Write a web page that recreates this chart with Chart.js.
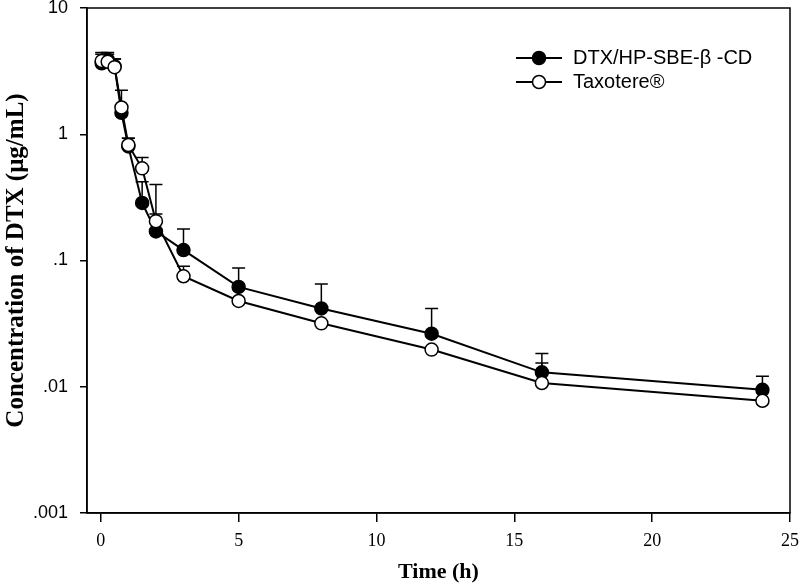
<!DOCTYPE html>
<html>
<head>
<meta charset="utf-8">
<script src="https://cdn.jsdelivr.net/npm/chart.js@4.4.1/dist/chart.umd.min.js"></script>
<style>
  html, body { margin: 0; padding: 0; background: #fff; }
  #wrap { width: 799px; height: 588px; }
</style>
</head>
<body>
<div id="wrap"><canvas id="c" width="799" height="588"></canvas></div>
<script>
// ---- data ----
const times = [0.033, 0.25, 0.5, 0.75, 1, 1.5, 2, 3, 5, 8, 12, 16, 24];
const dtxMean  = [3.65, 3.9, 3.45, 1.48, 0.80, 0.286, 0.170, 0.121, 0.0618, 0.0417, 0.0263, 0.0130, 0.00946];
const dtxUpper = [4.45, 4.45, 3.94, 2.23, 0.93, 0.42, 0.234, 0.178, 0.0873, 0.065, 0.0416, 0.0183, 0.0121];
const taxMean  = [3.8, 3.75, 3.4, 1.63, 0.822, 0.537, 0.205, 0.075, 0.0478, 0.0318, 0.0197, 0.0107, 0.00774];
const taxUpper = [4.3, 4.3, 3.94, null, 0.93, 0.653, 0.40, 0.090, null, null, null, 0.0154, 0.0098];
const seriesLabels = ['DTX/HP-SBE-\u03B2 -CD', 'Taxotere\u00AE'];
const yTickValues = [0.001, 0.01, 0.1, 1, 10];
const yTickLabels = ['.001', '.01', '.1', '1', '10'];
const xTickValues = [0, 5, 10, 15, 20, 25];
const xTitle = 'Time (h)';
const yTitle = 'Concentration of DTX (\u03BCg/mL)';

const toPts = (m) => times.map((t, i) => ({ x: t, y: m[i] }));

const errorBars = {
  id: 'errorBars',
  beforeDatasetsDraw(chart) {
    const ctx = chart.ctx;
    const xs = chart.scales.x, ys = chart.scales.y;
    ctx.save();
    ctx.strokeStyle = '#000';
    ctx.lineWidth = 1.5;
    chart.data.datasets.forEach(ds => {
      ds.upper.forEach((u, i) => {
        if (u == null) return;
        const px = xs.getPixelForValue(times[i]);
        const py0 = ys.getPixelForValue(ds.data[i].y);
        const py1 = ys.getPixelForValue(u);
        ctx.beginPath();
        ctx.moveTo(px, py0);
        ctx.lineTo(px, py1);
        ctx.moveTo(px - 6.5, py1);
        ctx.lineTo(px + 6.5, py1);
        ctx.stroke();
      });
    });
    ctx.restore();
  }
};

const frame = {
  id: 'frame',
  afterDraw(chart) {
    const { ctx, chartArea: a } = chart;
    ctx.save();
    ctx.strokeStyle = '#000';
    ctx.lineWidth = 1.5;
    ctx.strokeRect(a.left, a.top, a.right - a.left, a.bottom - a.top);
    ctx.restore();
  }
};

const insideLegend = {
  id: 'insideLegend',
  afterDraw(chart) {
    const { ctx, chartArea: a } = chart;
    const x0 = a.right - 274, y0 = a.top + 50, dy = 24;
    ctx.save();
    chart.data.datasets.forEach((ds, i) => {
      const y = y0 + i * dy;
      ctx.strokeStyle = '#000';
      ctx.lineWidth = 2;
      ctx.beginPath();
      ctx.moveTo(x0, y);
      ctx.lineTo(x0 + 46, y);
      ctx.stroke();
      ctx.beginPath();
      ctx.arc(x0 + 23, y, 6.5, 0, Math.PI * 2);
      ctx.fillStyle = ds.pointBackgroundColor;
      ctx.fill();
      ctx.lineWidth = 1.5;
      ctx.stroke();
      ctx.fillStyle = '#000';
      ctx.font = '20px "Liberation Sans", Arial, sans-serif';
      ctx.textBaseline = 'middle';
      ctx.textAlign = 'left';
      ctx.fillText(ds.label, x0 + 57, y);
    });
    ctx.restore();
  }
};

new Chart(document.getElementById('c'), {
  type: 'line',
  data: {
    datasets: [
      {
        label: seriesLabels[0],
        data: toPts(dtxMean),
        upper: dtxUpper,
        borderColor: '#000',
        borderWidth: 2,
        pointRadius: 6.5,
        pointBackgroundColor: '#000',
        pointBorderColor: '#000',
        pointBorderWidth: 1.5,
        order: 2,
        tension: 0
      },
      {
        label: seriesLabels[1],
        data: toPts(taxMean),
        upper: taxUpper,
        borderColor: '#000',
        borderWidth: 2,
        pointRadius: 6.5,
        pointBackgroundColor: '#fff',
        pointBorderColor: '#000',
        pointBorderWidth: 1.5,
        order: 1,
        tension: 0
      }
    ]
  },
  options: {
    responsive: false,
    animation: false,
    layout: { padding: { left: 0, right: 9, top: 7, bottom: 0 } },
    plugins: { legend: { display: false }, tooltip: { enabled: false } },
    scales: {
      x: {
        type: 'linear',
        min: -0.5,
        max: 25,
        afterBuildTicks(s) { s.ticks = xTickValues.map(v => ({ value: v })); },
        afterFit(s) { s.height = 75; s.paddingRight = 0; s.paddingLeft = 0; },
        grid: { display: true, drawOnChartArea: false, drawTicks: true, tickLength: 9, color: '#000', lineWidth: 1.5 },
        border: { display: true, color: '#000', width: 1.5 },
        ticks: {
          color: '#000',
          padding: 8,
          maxRotation: 0,
          autoSkip: false,
          font: { family: '"Liberation Serif", "Times New Roman", serif', size: 18 },
          callback: (v) => String(v)
        },
        title: {
          display: true,
          text: xTitle,
          color: '#000',
          padding: { top: 0, bottom: 2 },
          font: { family: '"Liberation Serif", "Times New Roman", serif', size: 22, weight: 'bold' }
        }
      },
      y: {
        type: 'logarithmic',
        min: 0.001,
        max: 10,
        afterBuildTicks(s) { s.ticks = yTickValues.map(v => ({ value: v })); },
        afterFit(s) { s.width = 87; s.paddingTop = 0; s.paddingBottom = 0; },
        grid: { display: true, drawOnChartArea: false, drawTicks: true, tickLength: 7, color: '#000', lineWidth: 1.5 },
        border: { display: true, color: '#000', width: 1.5 },
        ticks: {
          color: '#000',
          padding: 12,
          autoSkip: false,
          font: { family: '"Liberation Sans", Arial, sans-serif', size: 18 },
          callback: (v) => { const i = yTickValues.indexOf(v); return i >= 0 ? yTickLabels[i] : ''; }
        },
        title: {
          display: true,
          text: yTitle,
          color: '#000',
          padding: { top: 2, bottom: 0 },
          font: { family: '"Liberation Serif", "Times New Roman", serif', size: 25, weight: 'bold' }
        }
      }
    }
  },
  plugins: [errorBars, frame, insideLegend]
});
</script>
</body>
</html>
